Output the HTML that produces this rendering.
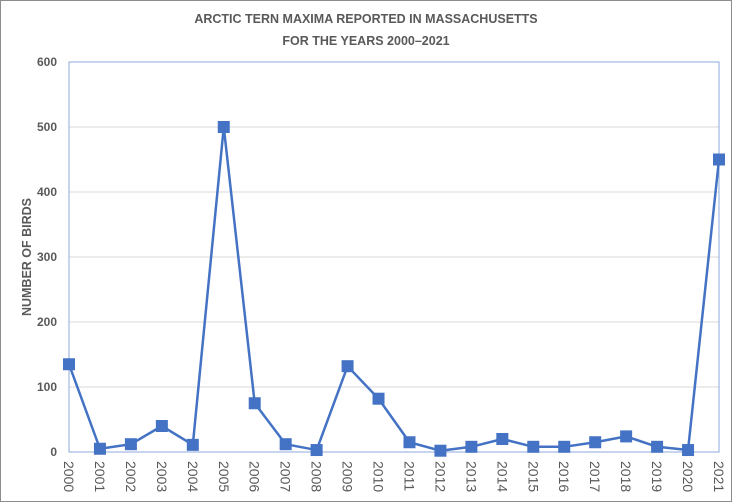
<!DOCTYPE html>
<html><head><style>
body{margin:0;background:#fff}
svg{display:block;font-family:"Liberation Sans",sans-serif}
</style></head><body>
<svg width="732" height="502" viewBox="0 0 732 502">
<rect x="0.5" y="0.5" width="731" height="501" fill="#fff" stroke="#8c8c8c"/>
<text x="366" y="23" text-anchor="middle" font-size="12.5" font-weight="bold" fill="#595959">ARCTIC TERN MAXIMA REPORTED IN MASSACHUSETTS</text>
<text x="366" y="45" text-anchor="middle" font-size="12.5" font-weight="bold" fill="#595959">FOR THE YEARS 2000–2021</text>
<g stroke="#d9d9d9" stroke-width="1">
<line x1="69" x2="719" y1="387" y2="387"/><line x1="69" x2="719" y1="322" y2="322"/>
<line x1="69" x2="719" y1="257" y2="257"/><line x1="69" x2="719" y1="192" y2="192"/>
<line x1="69" x2="719" y1="127" y2="127"/>
</g>
<rect x="69" y="62" width="650" height="390" fill="none" stroke="#8faadc"/>
<g font-size="12" font-weight="bold" fill="#595959" text-anchor="end">
<text x="57" y="456">0</text><text x="57" y="391">100</text><text x="57" y="326">200</text>
<text x="57" y="261">300</text><text x="57" y="196">400</text><text x="57" y="131">500</text><text x="57" y="66">600</text>
</g>
<text transform="translate(31,257) rotate(-90)" text-anchor="middle" font-size="12.5" font-weight="bold" fill="#595959">NUMBER OF BIRDS</text>
<g id="xl" font-size="14" fill="#595959"></g>
<polyline id="ln" fill="none" stroke="#4472c4" stroke-width="2.5" stroke-linejoin="round"/>
<g id="mk" fill="#4472c4"></g>
</svg>
<script>
var v=[135,5,12,40,11,500,75,12,3,132,82,15,2,8,20,8,8,15,24,8,3,450];
var p=[],xl=document.getElementById('xl'),mk=document.getElementById('mk'),ns='http://www.w3.org/2000/svg';
for(var i=0;i<22;i++){var x=69+i*650/21,y=452-v[i]*0.65;p.push(x+','+y);
var r=document.createElementNS(ns,'rect');r.setAttribute('x',x-6);r.setAttribute('y',y-6);r.setAttribute('width',12);r.setAttribute('height',12);mk.appendChild(r);
var t=document.createElementNS(ns,'text');t.setAttribute('transform','translate('+(x-5)+',461) rotate(90)');t.textContent=2000+i;xl.appendChild(t);}
document.getElementById('ln').setAttribute('points',p.join(' '));
</script>
</body></html>
